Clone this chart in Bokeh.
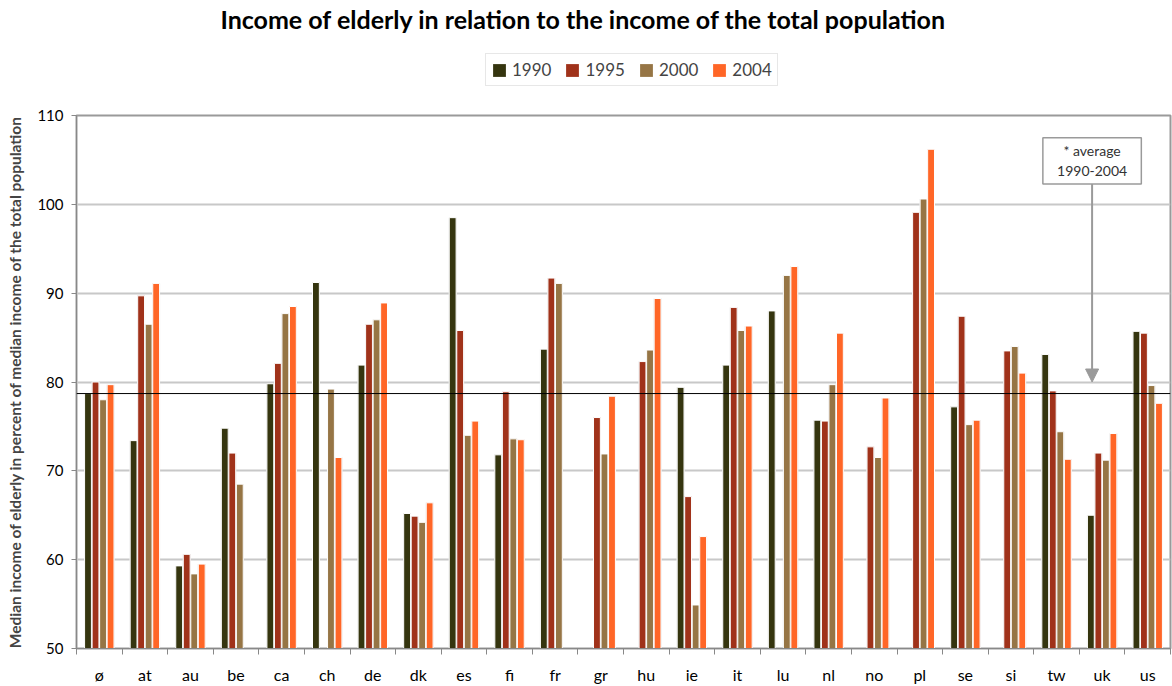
import numpy as np
from bokeh.plotting import figure
from bokeh.layouts import column
from bokeh.models import (ColumnDataSource, Legend, LegendItem, Span, BoxAnnotation,
                          Label, Arrow, NormalHead, FixedTicker, Range1d, SingleIntervalTicker)
from bokeh.transform import dodge
from bokeh.embed import file_html
from bokeh.resources import INLINE

nan = float("nan")

countries = ["ø", "at", "au", "be", "ca", "ch", "de", "dk", "es", "fi", "fr", "gr",
             "hu", "ie", "it", "lu", "nl", "no", "pl", "se", "si", "tw", "uk", "us"]
years = ["1990", "1995", "2000", "2004"]

v1990 = [78.7, 73.4, 59.3, 74.8, 79.8, 91.2, 81.9, 65.2, 98.5, 71.8, 83.7, nan,
         nan, 79.4, 81.9, 88.0, 75.7, nan, nan, 77.2, nan, 83.1, 65.0, 85.7]
v1995 = [80.0, 89.7, 60.6, 72.0, 82.1, nan, 86.5, 64.9, 85.8, 78.9, 91.7, 76.0,
         82.3, 67.1, 88.4, nan, 75.6, 72.7, 99.1, 87.4, 83.5, 79.0, 72.0, 85.5]
v2000 = [78.0, 86.5, 58.4, 68.5, 87.7, 79.2, 87.0, 64.2, 74.0, 73.6, 91.1, 71.9,
         83.6, 54.9, 85.8, 92.0, 79.7, 71.5, 100.6, 75.2, 84.0, 74.4, 71.2, 79.6]
v2004 = [79.7, 91.1, 59.5, nan, 88.5, 71.5, 88.9, 66.4, 75.6, 73.5, nan, 78.4,
         89.4, 62.6, 86.3, 93.0, 85.5, 78.2, 106.2, 75.7, 81.0, 71.3, 74.2, 77.6]

average = 78.7
colors = ["#35350F", "#A0321A", "#967545", "#FF6627"]
title_text = "Income of elderly in relation to the income of the total population"

W, H_TOP, H_MAIN = 1172, 103, 583
BL, BR = 76, 2
FW = W - BL - BR

# ---------- header figure: title + legend ----------
head = figure(width=W, height=H_TOP, x_range=Range1d(0, FW), y_range=Range1d(0, H_TOP),
              x_axis_type=None, y_axis_type=None, output_backend="svg", toolbar_location=None,
              min_border_left=BL, min_border_right=BR, min_border_top=0, min_border_bottom=0)
head.xgrid.visible = False
head.ygrid.visible = False
head.outline_line_color = None
head.add_layout(Label(x=583 - BL, y=H_TOP - 18, text=title_text, text_align="center",
                      text_baseline="middle", text_font="Lato", text_font_style="bold",
                      text_font_size="25px", text_color="black"))
dummy = ColumnDataSource(dict(x=[-1000], top=[-1000]))
legend_renderers = [head.vbar(x="x", top="top", width=1, source=dummy, fill_color=c, line_color=None)
                    for c in colors]
legend = Legend(items=[LegendItem(label=yr, renderers=[r]) for yr, r in zip(years, legend_renderers)],
                orientation="horizontal", location=(485 - BL, H_TOP - 86),
                border_line_color="#d0d0d0", label_text_font="Lato", label_text_font_size="17px",
                glyph_width=16, glyph_height=16, spacing=13, padding=5, margin=0,
                label_standoff=5, background_fill_alpha=1)
head.add_layout(legend)

# ---------- main chart ----------
x = np.arange(len(countries)) + 0.5
src = ColumnDataSource(dict(x=x, y1990=v1990, y1995=v1995, y2000=v2000, y2004=v2004))

p = figure(width=W, height=H_MAIN, x_range=Range1d(0, len(countries)), y_range=Range1d(50, 110),
           output_backend="svg", toolbar_location=None,
           min_border_left=BL, min_border_right=BR, min_border_top=12, min_border_bottom=38)

offsets = [-0.2475, -0.0825, 0.0825, 0.2475]
for yr, col, off in zip(years, colors, offsets):
    p.vbar(x=dodge("x", off), top="y" + yr, bottom=50, width=0.172, source=src,
           fill_color="#d4d4d4", line_color=None)
    p.vbar(x=dodge("x", off), top="y" + yr, bottom=50, width=0.15, source=src,
           fill_color=col, line_color="white", line_width=1)

p.add_layout(Span(location=average, dimension="width", line_color="black", line_width=1))

# annotation box + arrow
p.add_layout(BoxAnnotation(left=21.2, right=23.36, top=107.5, bottom=102.3,
                           fill_color="white", fill_alpha=1, line_color="#9a9a9a",
                           line_width=1.5, line_alpha=1))
p.add_layout(Label(x=22.28, y=104.9, text="* average\n1990-2004", text_align="center",
                   text_baseline="middle", text_font="Lato", text_font_size="14px",
                   text_color="#333333"))
p.add_layout(Arrow(end=NormalHead(size=13, fill_color="#9a9a9a", line_color="#9a9a9a"),
                   x_start=22.28, y_start=102.3, x_end=22.28, y_end=80.0,
                   line_color="#9a9a9a", line_width=2))

# axes
p.xaxis.ticker = FixedTicker(ticks=list(x), minor_ticks=list(range(len(countries) + 1)))
p.xaxis.major_label_overrides = {float(xi): c for xi, c in zip(x, countries)}
p.xaxis.major_tick_out = 0
p.xaxis.major_tick_in = 0
p.xaxis.minor_tick_out = 6
p.xaxis.minor_tick_in = 0
p.xaxis.minor_tick_line_color = "#888888"
p.xaxis.axis_line_color = "#888888"
p.xaxis.major_label_text_font = "Lato"
p.xaxis.major_label_text_font_size = "16px"
p.xaxis.major_label_text_color = "black"
p.xaxis.major_label_standoff = 10

p.yaxis.ticker = SingleIntervalTicker(interval=10, num_minor_ticks=0)
p.yaxis.major_tick_out = 5
p.yaxis.major_tick_in = 0
p.yaxis.major_tick_line_color = "#888888"
p.yaxis.axis_line_color = "#888888"
p.yaxis.major_label_text_font = "Lato"
p.yaxis.major_label_text_font_size = "15px"
p.yaxis.major_label_text_color = "black"
p.yaxis.major_label_standoff = 8
p.yaxis.axis_label = "Median income of elderly in percent of median income of the total population"
p.yaxis.axis_label_text_font = "Lato"
p.yaxis.axis_label_text_font_style = "bold"
p.yaxis.axis_label_text_font_size = "15.5px"
p.yaxis.axis_label_standoff = 10

p.xgrid.visible = False
p.ygrid.grid_line_color = "#c8c8c8"
p.ygrid.grid_line_width = 2
p.outline_line_color = "#9a9a9a"
p.outline_line_width = 2

layout = column(head, p, spacing=0)
open("out.html", "w").write(file_html(layout, INLINE))
